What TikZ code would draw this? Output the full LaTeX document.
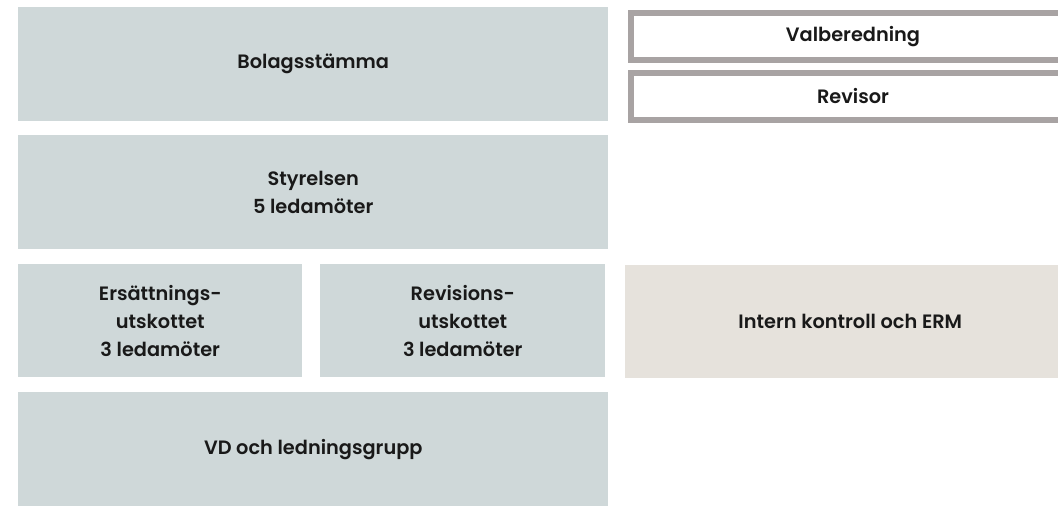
\documentclass[tikz,border=0pt]{standalone}
\usepackage{fontspec}
\setmainfont{Poppins}[UprightFont={* SemiBold}]
\usetikzlibrary{positioning}

\definecolor{boardgray}{RGB}{207,216,217}
\definecolor{controlbeige}{RGB}{230,226,220}
\definecolor{framegray}{RGB}{168,163,163}

\begin{document}
\begin{tikzpicture}[x=0.75pt,y=-0.75pt,
  organ/.style={fill=boardgray, inner sep=0pt, anchor=north west, align=center,
    text=black!90, font=\fontsize{14.5}{21}\selectfont, minimum height=85.5pt},
  control/.style={organ, fill=controlbeige},
  outside/.style={fill=white, draw=framegray, line width=4.5pt, inner sep=0pt,
    anchor=north west, text=black!90, font=\fontsize{14.5}{21}\selectfont,
    minimum width=333pt, minimum height=35.25pt}]
\clip (0,0) rectangle (1058,506);
\useasboundingbox (0,0) rectangle (1058,506);
\node[organ, minimum width=442.5pt] (stamma) at (18,7) {Bolagsstämma};
\node[organ, minimum width=442.5pt] (styrelse) at (18,135) {Styrelsen\\5 ledamöter};
\node[organ, minimum width=213pt, minimum height=84.75pt] (ersattning) at (18,264) {Ersättnings-\\utskottet\\3 ledamöter};
\node[organ, minimum width=213.75pt, minimum height=84.75pt] (revision) at (320,264) {Revisions-\\utskottet\\3 ledamöter};
\node[organ, minimum width=442.5pt] (vd) at (18,392) {VD och ledningsgrupp};
\node[outside] (valberedning) at (628,10) {Valberedning};
\node[outside] (revisor) at (628,70) {Revisor};
\node[control, minimum width=337.5pt, minimum height=84.75pt] (intern) at (625,265) {Intern kontroll och ERM};
\end{tikzpicture}
\end{document}
